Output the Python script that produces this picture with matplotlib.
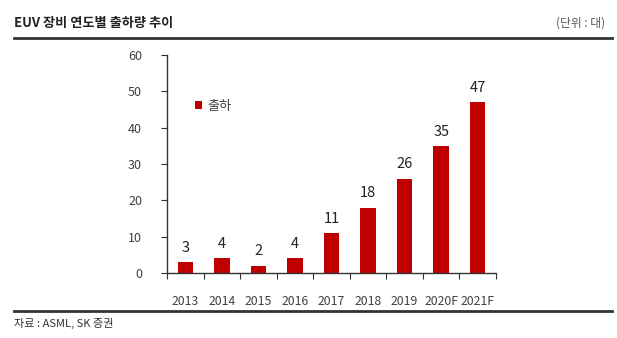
import matplotlib
matplotlib.use("Agg")
import matplotlib.pyplot as plt
from matplotlib.lines import Line2D

plt.rcParams['font.family'] = ['Noto Sans CJK KR', 'DejaVu Sans']

years = ["2013", "2014", "2015", "2016", "2017", "2018", "2019", "2020F", "2021F"]
shipments = [3, 4, 2, 4, 11, 18, 26, 35, 47]
yticks = [0, 10, 20, 30, 40, 50, 60]

red = "#C00000"
txt = "#404040"

fig = plt.figure(figsize=(6.17, 3.38), dpi=100)
ax = fig.add_axes([167/617, 1 - 273/338, (496 - 167)/617, (273 - 55)/338])

x = range(len(years))
bars = ax.bar(x, shipments, width=0.42, color=red, label="출하", zorder=2)
for xi, v in zip(x, shipments):
    ax.text(xi, v + 2.0, str(v), ha="center", va="bottom", fontsize=10.5, color="#222222")

ax.set_xlim(-0.5, len(years) - 0.5)
ax.set_ylim(0, 60)
ax.set_yticks(yticks)
ax.set_xticks([i - 0.5 for i in range(len(years) + 1)], minor=False)
ax.set_xticklabels([])
ax.set_xticks(list(x), minor=True)
ax.set_xticklabels(years, minor=True, fontsize=8.8, color=txt)
ax.tick_params(axis="x", which="major", direction="out", length=4, color="#333333")
ax.tick_params(axis="x", which="minor", length=0, pad=16)
ax.tick_params(axis="y", direction="out", length=4, color="#333333", labelsize=9,
               labelcolor=txt, pad=14)
for s in ["top", "right"]:
    ax.spines[s].set_visible(False)
for s in ["left", "bottom"]:
    ax.spines[s].set_color("#333333")
    ax.spines[s].set_linewidth(1.0)

ax.legend(loc="upper left", bbox_to_anchor=(0.05, 0.85), frameon=False, fontsize=9.5,
          handlelength=0.5, handleheight=0.6, handletextpad=0.4, labelcolor=txt)

fig.text(14/617, 1 - 23/338, "EUV 장비 연도별 출하량 추이", fontsize=9.5, fontweight="bold",
         color="#222222", va="center", ha="left")
fig.text(605/617, 1 - 23/338, "(단위 : 대)", fontsize=8.5, color="#555555",
         va="center", ha="right")
fig.add_artist(Line2D([14/617, 612/617], [1 - 38/338, 1 - 38/338], color="#333333", lw=2,
                      transform=fig.transFigure))
fig.add_artist(Line2D([14/617, 612/617], [1 - 311/338, 1 - 311/338], color="#333333", lw=2,
                      transform=fig.transFigure))
fig.text(14/617, 1 - 323/338, "자료 : ASML, SK 증권", fontsize=8, color="#333333",
         va="center", ha="left")

fig.savefig("out.png", dpi=100)
